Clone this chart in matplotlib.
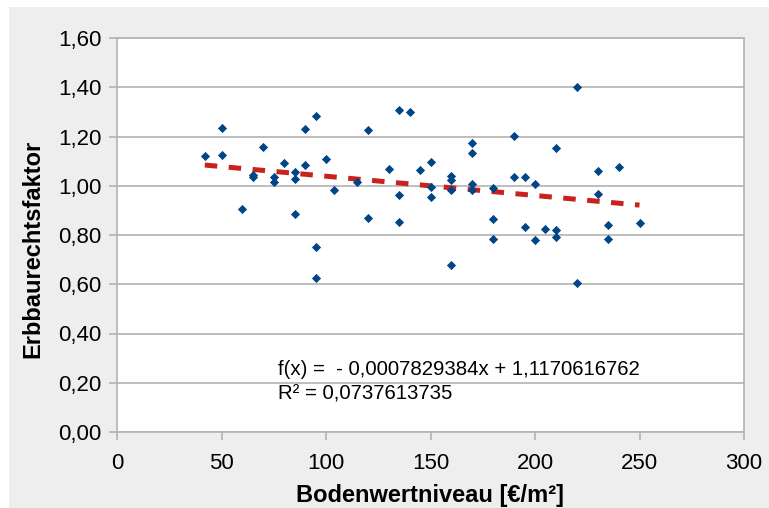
import numpy as np
import matplotlib.pyplot as plt
from matplotlib.patches import Rectangle
from matplotlib.ticker import FuncFormatter, MultipleLocator

plt.rcParams['font.family'] = ['Liberation Sans', 'DejaVu Sans']

# Bodenwertniveau [€/m²] und Erbbaurechtsfaktor
bodenwert = [42, 50, 50, 60, 65, 65, 70, 75, 75, 80, 85, 85, 85, 90, 90,
             95, 95, 95, 100, 104, 115, 120, 120, 130, 135, 135, 135, 140,
             145, 150, 150, 150, 160, 160, 160, 160, 170, 170, 170, 170,
             180, 180, 180, 190, 190, 195, 195, 200, 200, 205, 210, 210,
             210, 220, 220, 230, 230, 235, 235, 240, 250]
faktor = [1.120, 1.235, 1.124, 0.905, 1.045, 1.035, 1.158, 1.036, 1.016,
          1.091, 1.055, 1.026, 0.884, 1.229, 1.084, 1.282, 0.752, 0.624,
          1.108, 0.983, 1.017, 1.225, 0.868, 1.068, 1.308, 0.963, 0.851,
          1.301, 1.063, 1.098, 0.995, 0.953, 1.041, 1.022, 0.982, 0.679,
          1.174, 1.131, 1.006, 0.983, 0.989, 0.864, 0.783, 1.201, 1.036,
          1.036, 0.831, 1.007, 0.779, 0.825, 1.152, 0.819, 0.792, 1.401,
          0.605, 1.058, 0.967, 0.841, 0.785, 1.078, 0.849]

# lineare Trendlinie (aus der Vorlage)
steigung = -0.0007829384
achsenabschnitt = 1.1170616762
r_quadrat = 0.0737613735

fig = plt.figure(figsize=(7.69, 5.08), dpi=100, facecolor='white')
fig.patches.append(Rectangle((9 / 769, 0), 1, 501 / 508, transform=fig.transFigure,
                             facecolor='#eeeeee', edgecolor='none', zorder=-10))

ax = fig.add_axes([117 / 769, 76 / 508, 627 / 769, 394 / 508])
ax.set_facecolor('white')

ax.scatter(bodenwert, faktor, marker='D', s=22, color='#004586', linewidths=0, zorder=3)

xs = np.array([min(bodenwert), max(bodenwert)])
ax.plot(xs, steigung * xs + achsenabschnitt, color='#c9211e', linewidth=3.6,
        dashes=(2.5, 2.3), solid_capstyle='butt', dash_capstyle='butt', zorder=2)

ax.set_xlim(0, 300)
ax.set_ylim(0, 1.6)
ax.xaxis.set_major_locator(MultipleLocator(50))
ax.yaxis.set_major_locator(MultipleLocator(0.2))
ax.yaxis.set_major_formatter(FuncFormatter(lambda v, p: f'{v:.2f}'.replace('.', ',')))
ax.grid(axis='y', color='#b3b3b3', linewidth=1.2)
ax.set_axisbelow(True)

for s in ax.spines.values():
    s.set_color('#b3b3b3')
    s.set_linewidth(1.2)
ax.tick_params(length=6, width=1.2, color='#b3b3b3', labelsize=16, labelcolor='black')
ax.tick_params(axis='y', pad=5)
ax.tick_params(axis='x', pad=9)

ax.set_xlabel('Bodenwertniveau [€/m²]', fontsize=17, fontweight='bold', labelpad=7)
ax.set_ylabel('Erbbaurechtsfaktor', fontsize=17, fontweight='bold')
ax.yaxis.set_label_coords(-0.116, 0.465)

eq = f'f(x) =  - {-steigung:.10f}x + {achsenabschnitt:.10f}'.replace('.', ',')
r2 = f'R² = {r_quadrat:.10f}'.replace('.', ',')
ax.text(77, 0.254, eq, fontsize=14.7, va='center', ha='left')
ax.text(77, 0.155, r2, fontsize=14.7, va='center', ha='left')

fig.savefig('out.png', dpi=100, facecolor=fig.get_facecolor())
